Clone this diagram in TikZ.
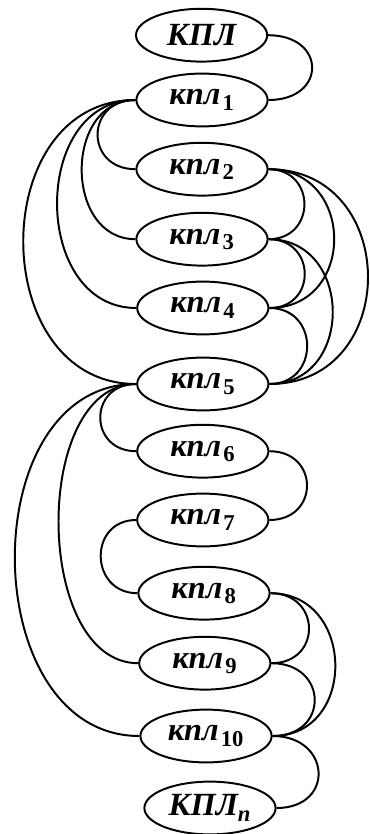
\documentclass[tikz,border=0pt]{standalone}
\usepackage{fontspec}
\setmainfont{Liberation Serif}
\usetikzlibrary{shapes.geometric}
\tikzset{
  kpl/.style={draw, ellipse, minimum width=3.28cm, minimum height=1.32cm, inner sep=0pt,
    font=\fontsize{23}{27}\selectfont\bfseries\itshape},
}
\newcommand{\kidx}[1]{\kern1.5pt\textsubscript{\upshape #1}}
\begin{document}
\begin{tikzpicture}[line width=1.4pt]
\useasboundingbox (0,0) rectangle (9.25,-20.85);
\node[kpl] (k0) at (5.04,-0.88) {КПЛ};
\node[kpl] (k1) at (5.05,-2.50) {кпл\kidx{1}};
\node[kpl] (k2) at (5.05,-4.23) {кпл\kidx{2}};
\node[kpl] (k3) at (5.05,-5.98) {кпл\kidx{3}};
\node[kpl] (k4) at (5.07,-7.70) {кпл\kidx{4}};
\node[kpl] (k5) at (5.07,-9.60) {кпл\kidx{5}};
\node[kpl] (k6) at (5.07,-11.28) {кпл\kidx{6}};
\node[kpl] (k7) at (5.07,-13.00) {кпл\kidx{7}};
\node[kpl] (k8) at (5.10,-14.83) {кпл\kidx{8}};
\node[kpl] (k9) at (5.12,-16.58) {кпл\kidx{9}};
\node[kpl] (k10) at (5.15,-18.40) {кпл\kidx{10}};
\node[kpl] (kn) at (5.25,-20.20) {КПЛ\textsubscript{\itshape n}};
% right side
\draw (k0.east) to[out=0,in=0,looseness=2.3] (k1.east);
\draw (k2.east) to[out=0,in=0,looseness=1.75] (k3.east);
\draw (k2.east) to[out=0,in=0,looseness=1.6] (k4.east);
\draw (k2.east) to[out=0,in=0,looseness=1.57] (k5.east);
\draw (k3.east) to[out=0,in=0,looseness=1.77] (k4.east);
\draw (k3.east) to[out=0,in=0,looseness=1.5] (k5.east);
\draw (k4.east) to[out=0,in=0,looseness=1.7] (k5.east);
\draw (k6.east) to[out=0,in=0,looseness=1.87] (k7.east);
\draw (k8.east) to[out=0,in=0,looseness=1.85] (k9.east);
\draw (k8.east) to[out=0,in=0,looseness=1.52] (k10.east);
\draw (k9.east) to[out=0,in=0,looseness=2.0] (k10.east);
\draw (k10.east) to[out=0,in=0,looseness=2.08] (kn.east);
% left side
\draw (k1.west) to[out=180,in=180,looseness=1.87] (k2.west);
\draw (k1.west) to[out=180,in=180,looseness=1.32] (k3.west);
\draw (k1.west) to[out=180,in=180,looseness=1.29] (k4.west);
\draw (k1.west) to[out=180,in=180,looseness=1.35] (k5.west);
\draw (k5.west) to[out=180,in=180,looseness=1.83] (k6.west);
\draw (k5.west) to[out=180,in=180,looseness=0.96] (k9.west);
\draw (k5.west) to[out=180,in=180,looseness=1.19] (k10.west);
\draw (k7.west) to[out=180,in=180,looseness=1.68] (k8.west);
\end{tikzpicture}
\end{document}
